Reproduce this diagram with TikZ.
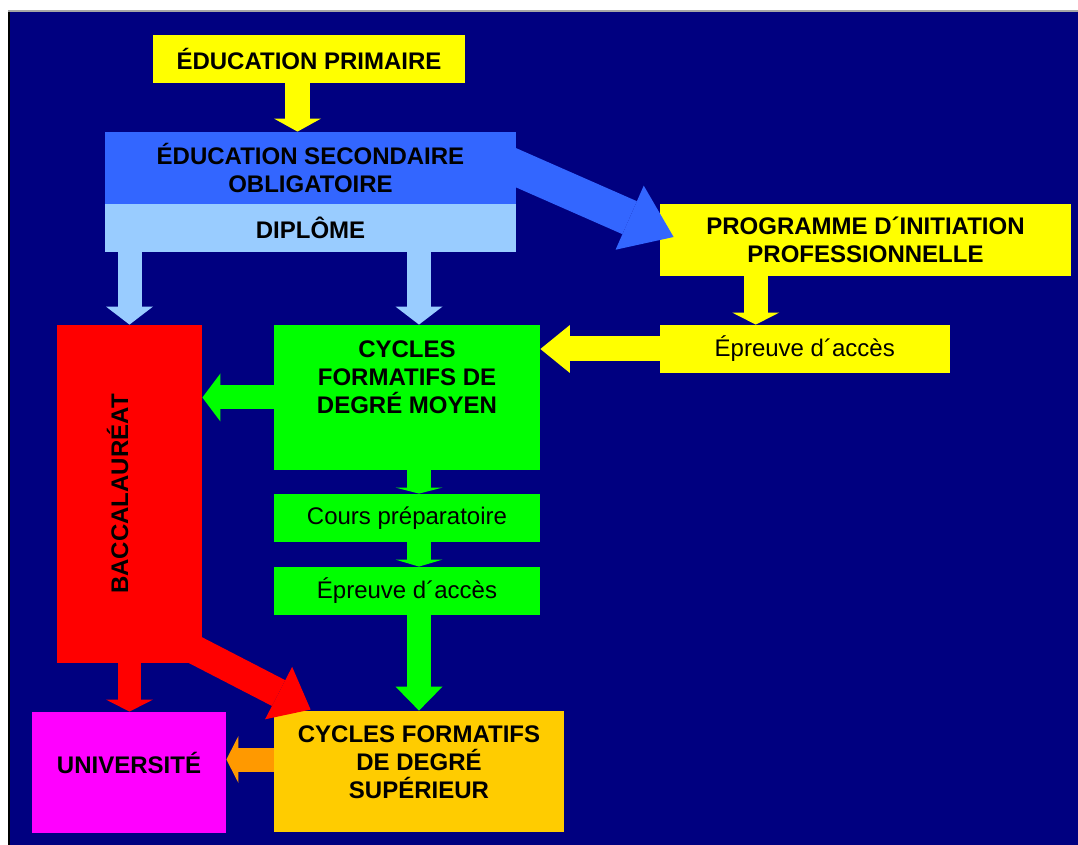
\documentclass[tikz,border=0pt]{standalone}
\usepackage{fontspec}
\usepackage{graphicx}
\setmainfont{Liberation Sans}
\usetikzlibrary{arrows.meta}
\definecolor{bgnavy}{HTML}{000080}
\definecolor{pyellow}{HTML}{FFFF00}
\definecolor{pblue}{HTML}{3366FF}
\definecolor{plblue}{HTML}{99CCFF}
\definecolor{pgreen}{HTML}{00FF00}
\definecolor{pred}{HTML}{FF0000}
\definecolor{pmag}{HTML}{FF00FF}
\definecolor{porange}{HTML}{FFCC00}
\definecolor{pdorange}{HTML}{FF9900}
\newcommand{\lowpad}[1]{\rule[-#1]{0pt}{#1}}
\tikzset{
  blk/.style 2 args={rectangle,inner sep=0pt,minimum width=#1,minimum height=#2,
    align=center,font=\bfseries\fontsize{12}{14}\selectfont},
  txt/.style={font=\fontsize{12}{14}\selectfont},
  arr/.style n args={4}{draw=#1,line width=#2,
    -{Triangle[length=#3,width=#4,line width=0pt]}}
}
\begin{document}
\begin{tikzpicture}[x=.5pt,y=-.5pt]
  \useasboundingbox (0,0) rectangle (1078,845);
  \fill[bgnavy] (8,12) rectangle (1078,845);
  \draw[gray!70,line width=1pt] (8,11.5) -- (1078,11.5);
  \draw[black,line width=1pt] (8.5,12) -- (8.5,845);
  \node (ep) [blk={156pt}{24pt},fill=pyellow] at (309,59) {ÉDUCATION PRIMAIRE};
  \node (so) [blk={205.5pt}{36pt},fill=pblue] at (310.5,168) {ÉDUCATION SECONDAIRE\\OBLIGATOIRE};
  \node (di) [blk={205.5pt}{24pt},fill=plblue] at (310.5,228) {DIPLÔME};
  \node (ip) [blk={205.5pt}{36pt},fill=pyellow] at (865.5,240) {PROGRAMME D´INITIATION\\PROFESSIONNELLE};
  \node (ea) [blk={144.75pt}{24pt},fill=pyellow,txt] at (804.75,349) {Épreuve d´accès};
  \node (cm) [blk={133pt}{72.5pt},fill=pgreen] at (407,397.5) {CYCLES\\FORMATIFS DE\\DEGRÉ MOYEN\lowpad{20.5pt}};
  \node (cp) [blk={133pt}{24pt},fill=pgreen,txt] at (407,518) {Cours préparatoire};
  \node (eb) [blk={133pt}{24pt},fill=pgreen,txt] at (407,591) {Épreuve d´accès};
  \node (ba) [blk={72.5pt}{169pt},fill=pred] at (129.5,494) {\rotatebox{90}{BACCALAURÉAT}\rule{12pt}{0pt}};
  \node (un) [blk={97pt}{60.5pt},fill=pmag] at (129,772.5) {UNIVERSITÉ\lowpad{9.5pt}};
  \node (cs) [blk={145pt}{60.5pt},fill=porange] at (419,771.5) {CYCLES FORMATIFS\\DE DEGRÉ\\SUPÉRIEUR\lowpad{9pt}};
  \path (node cs:name=ep,anchor=south) +(-11.5,0) coordinate (epo);
  \draw[arr={pyellow}{12.5pt}{6.5pt}{23.5pt}] (epo) -- (epo |- so.north);
  \draw[arr={plblue}{12pt}{9pt}{23.5pt}] (di.south -| ba.north) -- (ba.north);
  \draw[arr={plblue}{12pt}{9pt}{23.5pt}] (di.south -| cs.north) -- (cm.north -| cs.north);
  \path (node cs:name=ea,anchor=north) +(-49,0) coordinate (eai);
  \draw[arr={pyellow}{12pt}{6pt}{23.5pt}] (eai |- ip.south) -- (eai);
  \draw[arr={pyellow}{12.5pt}{14.75pt}{24pt}] (ea.west) -- (ea.west -| cm.east);
  \draw[arr={pgreen}{12pt}{9pt}{24pt}] (cm.west) -- (cm.west -| ba.east);
  \draw[arr={pgreen}{12pt}{3pt}{23.5pt}] (cm.south -| cs.north) -- (cp.north -| cs.north);
  \draw[arr={pgreen}{12pt}{3.5pt}{23.5pt}] (cp.south -| cs.north) -- (eb.north -| cs.north);
  \draw[arr={pgreen}{12pt}{12pt}{23.5pt}] (eb.south -| cs.north) -- (cs.north);
  \draw[arr={pred}{11.5pt}{6pt}{23.5pt}] (ba.south) -- (ba.south |- un.north);
  \path (node cs:name=cs,anchor=west) +(0,-12) coordinate (cso);
  \draw[arr={pdorange}{12pt}{6pt}{23.5pt}] (cso) -- (cso -| un.east);
  \path (node cs:name=so,anchor=east) +(-18,-8) coordinate (soo);
  \path (node cs:name=ip,anchor=west) +(14,-3) coordinate (ipi);
  \draw[arr={pblue}{18pt}{24pt}{35pt}] (soo) -- (ipi);
  \path (node cs:name=ba,anchor=south east) +(-20,-20) coordinate (bao);
  \path (node cs:name=cs,anchor=north west) +(37,-1) coordinate (csi);
  \draw[arr={pred}{14.5pt}{18pt}{29.5pt}] (bao) -- (csi);
\end{tikzpicture}
\end{document}
